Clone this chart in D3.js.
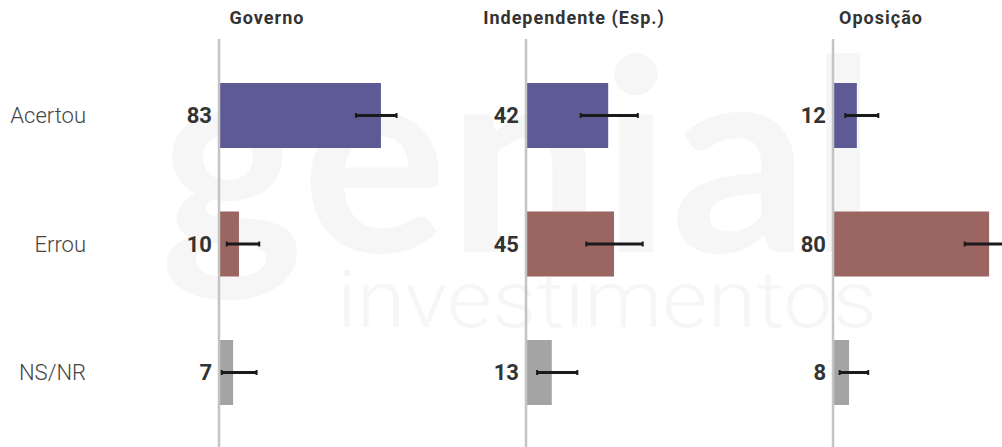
<!DOCTYPE html>
<html lang="pt">
<head>
<meta charset="utf-8">
<script src="https://d3js.org/d3.v7.min.js"></script>
<style>
  body { margin: 0; background: #fff; }
  svg { display: block; font-family: Roboto, "Noto Sans", sans-serif; }
  .axis-line { stroke: #c4c4c4; stroke-width: 2.5; }
  .title { font-size: 18px; font-weight: 700; fill: #333; letter-spacing: 1px; }
  .value { font-size: 22px; font-weight: 700; fill: #333; }
  .cat { font-size: 22px; font-weight: 300; fill: #444; }
  .err { stroke: #1a1a1a; stroke-width: 3; }
  .cap { stroke: #1a1a1a; stroke-width: 2; }
</style>
</head>
<body>
<svg width="1002" height="447"></svg>
<script>
var groups = ["Governo", "Independente (Esp.)", "Oposição"];
var answers = ["Acertou", "Errou", "NS/NR"];
var colors = ["#5e5a96", "#9b6562", "#a4a4a4"];

// values per group, in the order of answers
var governo = [83, 10, 7];
var independente = [42, 45, 13];
var oposicao = [12, 80, 8];

// error bar ends
var governoLow = [70.4, 4.0, 1.4];
var governoHigh = [91.3, 20.7, 19.3];
var independenteLow = [28.1, 31.0, 5.7];
var independenteHigh = [57.5, 60.0, 26.4];
var oposicaoLow = [6.3, 67.7, 3.4];
var oposicaoHigh = [23.3, 92, 18.1];

var svg = d3.select("svg"),
    width = +svg.attr("width"),
    height = +svg.attr("height");

var values = [governo, independente, oposicao],
    lows = [governoLow, independenteLow, oposicaoLow],
    highs = [governoHigh, independenteHigh, oposicaoHigh];

// watermark
var wm = svg.append("g").attr("fill", "#f5f6f5");
wm.append("text")
    .attr("x", 160).attr("y", 252)
    .attr("textLength", 717).attr("lengthAdjust", "spacingAndGlyphs")
    .style("font-family", "Lato, Roboto, sans-serif")
    .style("font-weight", 700).style("font-size", "268px")
    .text("genial");
wm.append("text")
    .attr("x", 337).attr("y", 327)
    .attr("textLength", 540).attr("lengthAdjust", "spacingAndGlyphs")
    .style("font-weight", 300).style("font-size", "80px")
    .text("investimentos");

var panelX = d3.scalePoint().domain(groups).range([219, 833]);
var y = d3.scalePoint().domain(answers).range([115.5, 372.5]);
var x = d3.scaleLinear().domain([0, 100]).range([0, 194.5]);
var barH = 65;

// row labels
svg.selectAll(".cat")
    .data(answers)
  .enter().append("text")
    .attr("class", "cat")
    .attr("x", 86)
    .attr("y", function(d) { return y(d); })
    .attr("dy", "0.35em")
    .attr("text-anchor", "end")
    .text(function(d) { return d; });

groups.forEach(function(g, gi) {
  var x0 = panelX(g);
  var panel = svg.append("g").attr("transform", "translate(" + x0 + ",0)");

  panel.append("text")
      .attr("class", "title")
      .attr("x", 48)
      .attr("y", 24)
      .attr("text-anchor", "middle")
      .text(g);

  var rows = answers.map(function(a, i) {
    return { answer: a, value: values[gi][i], lo: lows[gi][i], hi: highs[gi][i], color: colors[i] };
  });

  panel.selectAll("rect")
      .data(rows)
    .enter().append("rect")
      .attr("x", 0.5)
      .attr("y", function(d) { return y(d.answer) - barH / 2; })
      .attr("width", function(d) { return x(d.value); })
      .attr("height", barH)
      .attr("fill", function(d) { return d.color; });

  panel.append("line")
      .attr("class", "axis-line")
      .attr("x1", 0).attr("x2", 0)
      .attr("y1", 39).attr("y2", height);

  panel.selectAll(".err")
      .data(rows)
    .enter().append("line")
      .attr("class", "err")
      .attr("x1", function(d) { return x(d.lo); })
      .attr("x2", function(d) { return x(d.hi); })
      .attr("y1", function(d) { return y(d.answer); })
      .attr("y2", function(d) { return y(d.answer); });

  rows.forEach(function(d) {
    [d.lo, d.hi].forEach(function(v) {
      panel.append("line")
          .attr("class", "cap")
          .attr("x1", x(v)).attr("x2", x(v))
          .attr("y1", y(d.answer) - 2.5)
          .attr("y2", y(d.answer) + 2.5);
    });
  });

  panel.selectAll(".value")
      .data(rows)
    .enter().append("text")
      .attr("class", "value")
      .attr("x", -7)
      .attr("y", function(d) { return y(d.answer); })
      .attr("dy", "0.36em")
      .attr("text-anchor", "end")
      .text(function(d) { return d.value; });
});
</script>
</body>
</html>
